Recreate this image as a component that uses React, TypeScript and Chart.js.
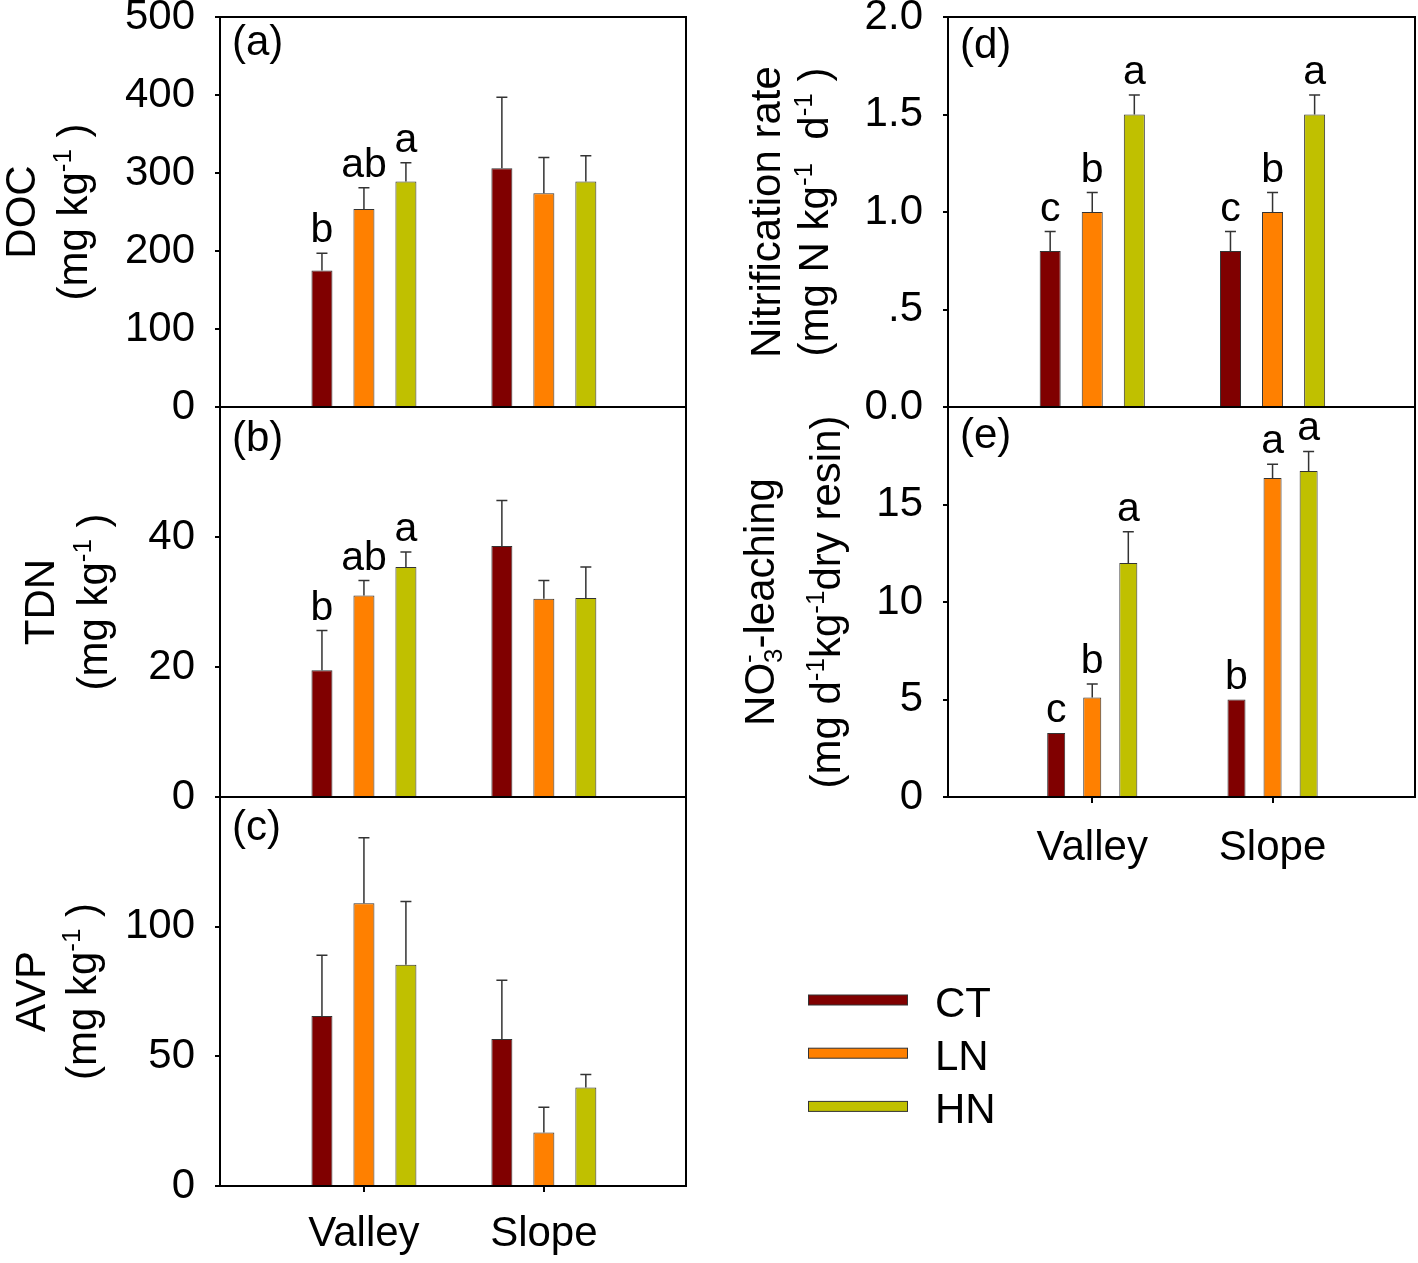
import React, { useEffect, useRef } from 'react';
import { Chart, registerables } from 'chart.js';

Chart.register(...registerables);

const W = 1418;
const H = 1263;
const FONT = '"Liberation Sans", Arial, Helvetica, sans-serif';

// ---------- data ----------
const SITES = ['Valley', 'Slope'];
const SITE_X = [1, 2];
const TREATMENTS = ['CT', 'LN', 'HN'];
const COLORS = ['#800000', '#FF8000', '#C0C000'];

// rows: CT, LN, HN ; columns: Valley, Slope
const DOC_MEAN = [[175, 306], [254, 274], [289, 289]];
const DOC_SE = [[22, 91], [27, 46], [24, 33]];
const DOC_LETTERS = [['b', ''], ['ab', ''], ['a', '']];
const DOC_TICKS = [0, 100, 200, 300, 400, 500];
const DOC_TICK_LABELS = ['0', '100', '200', '300', '400', '500'];

const TDN_MEAN = [[19.5, 38.6], [31.0, 30.5], [35.4, 30.6]];
const TDN_SE = [[6.1, 7.0], [2.3, 2.8], [2.3, 4.8]];
const TDN_LETTERS = [['b', ''], ['ab', ''], ['a', '']];
const TDN_TICKS = [0, 20, 40];
const TDN_TICK_LABELS = ['0', '20', '40'];

const AVP_MEAN = [[65.6, 56.7], [109, 20.6], [85.3, 38]];
const AVP_SE = [[23.4, 22.6], [25.3, 9.8], [24.4, 5]];
const AVP_LETTERS = [['', ''], ['', ''], ['', '']];
const AVP_TICKS = [0, 50, 100];
const AVP_TICK_LABELS = ['0', '50', '100'];

const NIT_MEAN = [[0.8, 0.8], [1.0, 1.0], [1.5, 1.5]];
const NIT_SE = [[0.1, 0.1], [0.1, 0.1], [0.1, 0.1]];
const NIT_LETTERS = [['c', 'c'], ['b', 'b'], ['a', 'a']];
const NIT_TICKS = [0, 0.5, 1, 1.5, 2];
const NIT_TICK_LABELS = ['0.0', '.5', '1.0', '1.5', '2.0'];

const NO3_MEAN = [[3.28, 5.0], [5.1, 16.36], [12.0, 16.72]];
const NO3_SE = [[0, 0], [0.7, 0.7], [1.6, 1.0]];
const NO3_LETTERS = [['c', 'b'], ['b', 'a'], ['a', 'a']];
const NO3_TICKS = [0, 5, 10, 15];
const NO3_TICK_LABELS = ['0', '5', '10', '15'];

// ---------- layout ----------
type Seg = { t: string; k?: 'sup' | 'sub' | 'subsup'; t2?: string };
type TitleLine = { segs: Seg[]; x: number };
interface Panel {
  key: string;
  area: [number, number, number, number];
  yMax: number;
  yTicks: number[];
  yTickLabels: string[];
  means: number[][];
  ses: number[][];
  letters: string[][];
  catPct: number;
  showX: boolean;
  xPad: number;
  tag: string;
  tagPos: [number, number];
  titles: TitleLine[];
  legend?: boolean;
}

const KG = (pre: string): Seg[] => [{ t: pre }, { t: '-1', k: 'sup' }, { t: ' )' }];

const PANELS: Panel[] = [
  {
    key: 'a', area: [220, 17, 686, 407], yMax: 500, yTicks: DOC_TICKS, yTickLabels: DOC_TICK_LABELS,
    means: DOC_MEAN, ses: DOC_SE, letters: DOC_LETTERS, catPct: 0.7, showX: false, xPad: 0,
    tag: '(a)', tagPos: [232, 55],
    titles: [{ segs: [{ t: 'DOC' }], x: 35 }, { segs: KG('(mg kg'), x: 87 }],
  },
  {
    key: 'b', area: [220, 407, 686, 797], yMax: 60, yTicks: TDN_TICKS, yTickLabels: TDN_TICK_LABELS,
    means: TDN_MEAN, ses: TDN_SE, letters: TDN_LETTERS, catPct: 0.7, showX: false, xPad: 0,
    tag: '(b)', tagPos: [232, 451],
    titles: [{ segs: [{ t: 'TDN' }], x: 54 }, { segs: KG('(mg kg'), x: 107 }],
  },
  {
    key: 'c', area: [220, 797, 686, 1186], yMax: 150, yTicks: AVP_TICKS, yTickLabels: AVP_TICK_LABELS,
    means: AVP_MEAN, ses: AVP_SE, letters: AVP_LETTERS, catPct: 0.7, showX: true, xPad: 17,
    tag: '(c)', tagPos: [232, 840],
    titles: [{ segs: [{ t: 'AVP' }], x: 45 }, { segs: KG('(mg kg'), x: 96 }],
  },
  {
    key: 'd', area: [948, 17, 1415, 407], yMax: 2, yTicks: NIT_TICKS, yTickLabels: NIT_TICK_LABELS,
    means: NIT_MEAN, ses: NIT_SE, letters: NIT_LETTERS, catPct: 0.7, showX: false, xPad: 0,
    tag: '(d)', tagPos: [960, 58],
    titles: [
      { segs: [{ t: 'Nitrification rate' }], x: 780 },
      { segs: [{ t: '(mg N kg' }, { t: '-1', k: 'sup' }, { t: '  d' }, { t: '-1', k: 'sup' }, { t: ' )' }], x: 828 },
    ],
  },
  {
    key: 'e', area: [948, 407, 1415, 797], yMax: 20, yTicks: NO3_TICKS, yTickLabels: NO3_TICK_LABELS,
    means: NO3_MEAN, ses: NO3_SE, letters: NO3_LETTERS, catPct: 0.6, showX: true, xPad: 20,
    tag: '(e)', tagPos: [960, 448],
    titles: [
      { segs: [{ t: 'NO' }, { t: '3', k: 'subsup', t2: '-' }, { t: '-leaching' }], x: 774 },
      { segs: [{ t: '(mg d' }, { t: '-1', k: 'sup' }, { t: 'kg' }, { t: '-1', k: 'sup' }, { t: 'dry resin)' }], x: 840 },
    ],
    legend: true,
  },
];

function drawRich(ctx: CanvasRenderingContext2D, segs: Seg[], x: number, cy: number, size: number) {
  const small = Math.round(size * 0.62);
  const big = `${size}px ${FONT}`;
  const sm = `${small}px ${FONT}`;
  const widthOf = (s: Seg) => {
    if (!s.k) { ctx.font = big; return ctx.measureText(s.t).width; }
    ctx.font = sm;
    if (s.k === 'subsup') return Math.max(ctx.measureText(s.t).width, ctx.measureText(s.t2 || '').width);
    return ctx.measureText(s.t).width;
  };
  const total = segs.reduce((acc, s) => acc + widthOf(s), 0);
  ctx.save();
  ctx.translate(x, cy);
  ctx.rotate(-Math.PI / 2);
  ctx.fillStyle = '#000';
  ctx.textAlign = 'left';
  ctx.textBaseline = 'alphabetic';
  let cur = -total / 2;
  for (const s of segs) {
    const w = widthOf(s);
    if (!s.k) { ctx.font = big; ctx.fillText(s.t, cur, 0); }
    else if (s.k === 'sup') { ctx.font = sm; ctx.fillText(s.t, cur, -size * 0.38); }
    else if (s.k === 'sub') { ctx.font = sm; ctx.fillText(s.t, cur, size * 0.2); }
    else { ctx.font = sm; ctx.fillText(s.t, cur, size * 0.2); ctx.fillText(s.t2 || '', cur, -size * 0.4); }
    cur += w;
  }
  ctx.restore();
}

function makeDecor(p: Panel) {
  return {
    id: 'decor_' + p.key,
    afterDraw(chart: any) {
      const ctx: CanvasRenderingContext2D = chart.ctx;
      const ys = chart.scales.y;
      ctx.save();
      // error bars + significance letters
      p.means.forEach((row, di) => {
        const meta = chart.getDatasetMeta(di);
        row.forEach((v, i) => {
          const bar = meta.data[i] as any;
          const se = p.ses[di][i];
          const x = bar.x;
          const top = ys.getPixelForValue(v + se);
          if (se > 0) {
            ctx.strokeStyle = '#333';
            ctx.lineWidth = 1.5;
            ctx.beginPath();
            ctx.moveTo(x, bar.y);
            ctx.lineTo(x, top);
            ctx.moveTo(x - 5.5, top);
            ctx.lineTo(x + 5.5, top);
            ctx.stroke();
          }
          const L = p.letters[di][i];
          if (L) {
            ctx.fillStyle = '#000';
            ctx.font = `41px ${FONT}`;
            ctx.textAlign = 'center';
            ctx.textBaseline = 'alphabetic';
            ctx.fillText(L, x, (se > 0 ? top : bar.y) - 11);
          }
        });
      });
      // frame
      const a = chart.chartArea;
      ctx.strokeStyle = '#000';
      ctx.lineWidth = 2;
      ctx.strokeRect(a.left, a.top, a.right - a.left, a.bottom - a.top);
      // panel tag
      ctx.fillStyle = '#000';
      ctx.font = `42px ${FONT}`;
      ctx.textAlign = 'left';
      ctx.textBaseline = 'alphabetic';
      ctx.fillText(p.tag, p.tagPos[0], p.tagPos[1]);
      // axis titles
      const cy = (a.top + a.bottom) / 2;
      p.titles.forEach((tl) => drawRich(ctx, tl.segs, tl.x, cy, 42));
      // legend
      if (p.legend) {
        chart.data.datasets.forEach((ds: any, i: number) => {
          const cyL = 1000 + i * 53.2;
          ctx.fillStyle = ds.backgroundColor;
          ctx.fillRect(808, cyL - 5, 100, 10);
          ctx.strokeStyle = '#333';
          ctx.lineWidth = 1;
          ctx.strokeRect(808.5, cyL - 5, 99, 10);
          ctx.fillStyle = '#000';
          ctx.font = `42px ${FONT}`;
          ctx.textAlign = 'left';
          ctx.fillText(ds.label, 935, cyL + 16.5);
        });
      }
      ctx.restore();
    },
  };
}

function buildConfig(p: Panel): any {
  const [l, t, r, b] = p.area;
  const yW = 100;
  const xH = p.showX ? 100 : 0;
  return {
    type: 'bar',
    data: {
      datasets: TREATMENTS.map((tr, di) => ({
        label: tr,
        data: SITE_X.map((x, i) => ({ x, y: p.means[di][i] })),
        backgroundColor: COLORS[di],
        borderColor: '#333',
        borderWidth: 1,
        categoryPercentage: p.catPct,
        barPercentage: 0.5,
      })),
    },
    options: {
      responsive: false,
      animation: false,
      devicePixelRatio: 1,
      events: [],
      layout: { padding: { left: l - yW, top: t, right: W - r, bottom: H - b - xH } },
      plugins: { legend: { display: false }, tooltip: { enabled: false }, title: { display: false } },
      scales: {
        x: {
          type: 'linear',
          min: 0.2,
          max: 2.79,
          offset: false,
          bounds: 'data',
          afterBuildTicks: (ax: any) => { ax.ticks = SITE_X.map((v) => ({ value: v })); },
          afterFit: (ax: any) => { ax.height = xH; ax.paddingLeft = 0; ax.paddingRight = 0; },
          grid: { display: true, drawOnChartArea: false, drawTicks: p.showX, tickLength: 6, color: '#000', lineWidth: 2, offset: false },
          border: { display: false },
          ticks: {
            display: p.showX,
            padding: p.xPad,
            maxRotation: 0,
            autoSkip: false,
            color: '#000',
            font: { family: FONT, size: 42 },
            callback: (v: number) => SITES[SITE_X.indexOf(v)] ?? '',
          },
        },
        y: {
          type: 'linear',
          min: 0,
          max: p.yMax,
          bounds: 'data',
          afterBuildTicks: (ax: any) => { ax.ticks = p.yTicks.map((v) => ({ value: v })); },
          afterFit: (ax: any) => { ax.width = yW; ax.paddingTop = 0; ax.paddingBottom = 0; },
          grid: { display: true, drawOnChartArea: false, drawTicks: true, tickLength: 5, color: '#000', lineWidth: 2 },
          border: { display: false },
          ticks: {
            padding: 20,
            autoSkip: false,
            color: '#000',
            font: { family: FONT, size: 42 },
            callback: (v: number) => p.yTickLabels[p.yTicks.indexOf(v)] ?? '',
          },
        },
      },
    },
    plugins: [makeDecor(p)],
  };
}

function PanelChart({ p }: { p: Panel }) {
  const ref = useRef<HTMLCanvasElement>(null);
  useEffect(() => {
    const chart = new Chart(ref.current as HTMLCanvasElement, buildConfig(p));
    return () => chart.destroy();
  }, [p]);
  return (
    <canvas
      ref={ref}
      width={W}
      height={H}
      style={{ position: 'absolute', left: 0, top: 0, width: W, height: H }}
    />
  );
}

export default function App() {
  return (
    <div style={{ position: 'absolute', left: 0, top: 0, width: W, height: H, background: '#fff', overflow: 'hidden' }}>
      {PANELS.map((p) => (
        <PanelChart key={p.key} p={p} />
      ))}
    </div>
  );
}
